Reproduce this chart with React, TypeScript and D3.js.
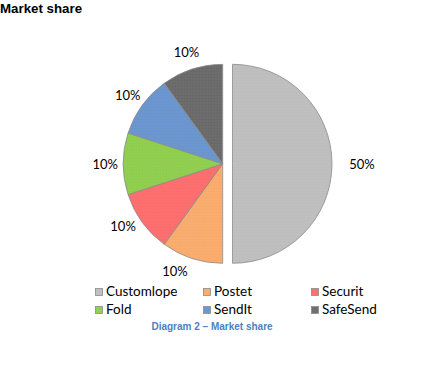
import React from "react";
import * as d3 from "d3";

const categories = ["Customlope", "Postet", "Securit", "Fold", "SendIt", "SafeSend"];
const shares = [50, 10, 10, 10, 10, 10];
const colors = ["#c0c0c0", "#fbae70", "#ff7070", "#92d050", "#6c97d0", "#6f6f6f"];
const exploded = [true, false, false, false, false, false];

const W = 423;
const H = 369;
const cx = 222.7;
const cy = 163.8;
const R = 99.5;
const explodeDist = 9.8;
const labelFont = "Lato, 'Open Sans', sans-serif";
// label placement tweak (degrees) mimicking Excel's best-fit placement
const labelAngleShift = [0, 6, 4, 0, 0, 0];

export default function App() {
  const total = d3.sum(shares);
  const pie = d3.pie<number>().sort(null).startAngle(0).endAngle(2 * Math.PI).value((d) => d);
  const arcs = pie(shares);
  const arc = d3.arc<d3.PieArcDatum<number>>().innerRadius(0).outerRadius(R);
  const fmt = d3.format(".0%");

  const legendCols = [95, 203, 311];
  const legendRows = [288, 306];

  return (
    <svg width={W} height={H} style={{ position: "absolute", left: 0, top: 0, background: "#fff" }}>
      <defs>
        {colors.map((c, i) => (
          <pattern key={i} id={`pat${i}`} width={3} height={3} patternUnits="userSpaceOnUse">
            <rect width={3} height={3} fill={c} />
            <rect width={3} height={1} fill={d3.color(c)!.darker(i === 5 ? 0.25 : 0.08).toString()} opacity={0.6} />
            <rect width={1} height={3} fill={d3.color(c)!.darker(i === 5 ? 0.25 : 0.08).toString()} opacity={0.6} />
          </pattern>
        ))}
      </defs>
      <text x={0} y={13} fontFamily="Arial, 'Liberation Sans', sans-serif" fontWeight="bold" fontSize={13.3} fill="#000">
        Market share
      </text>
      {arcs.map((a, i) => {
        const mid = (a.startAngle + a.endAngle) / 2;
        const ux = Math.sin(mid);
        const uy = -Math.cos(mid);
        const off = exploded[i] ? explodeDist : 0;
        const ox = cx + ux * off;
        const oy = cy + uy * off;
        const lr = exploded[i] ? R + 30 : R + 18;
        const la = mid + (labelAngleShift[i] * Math.PI) / 180;
        return (
          <g key={i}>
            <path d={arc(a) || ""} transform={`translate(${ox},${oy})`} fill={`url(#pat${i})`} stroke="#8c8c8c" strokeWidth={0.8} />
            <text
              x={ox + Math.sin(la) * lr}
              y={oy - Math.cos(la) * lr}
              textAnchor="middle"
              dominantBaseline="central"
              fontFamily={labelFont}
              fontSize={13}
              fill="#000"
            >
              {fmt(shares[i] / total)}
            </text>
          </g>
        );
      })}
      {categories.map((c, i) => {
        const x = legendCols[i % 3];
        const y = legendRows[Math.floor(i / 3)];
        return (
          <g key={c}>
            <rect x={x + 0.5} y={y + 0.5} width={7} height={7} fill={colors[i]} stroke="#8c8c8c" strokeWidth={0.8} />
            <text x={x + 11} y={y + 8} fontFamily={labelFont} fontSize={13.5} fill="#000">
              {c}
            </text>
          </g>
        );
      })}
      <text
        x={212}
        y={330}
        textAnchor="middle"
        fontFamily="Arial, 'Liberation Sans', sans-serif"
        fontWeight="bold"
        fontSize={10}
        fill="#4f81bd"
      >
        Diagram 2 – Market share
      </text>
    </svg>
  );
}
